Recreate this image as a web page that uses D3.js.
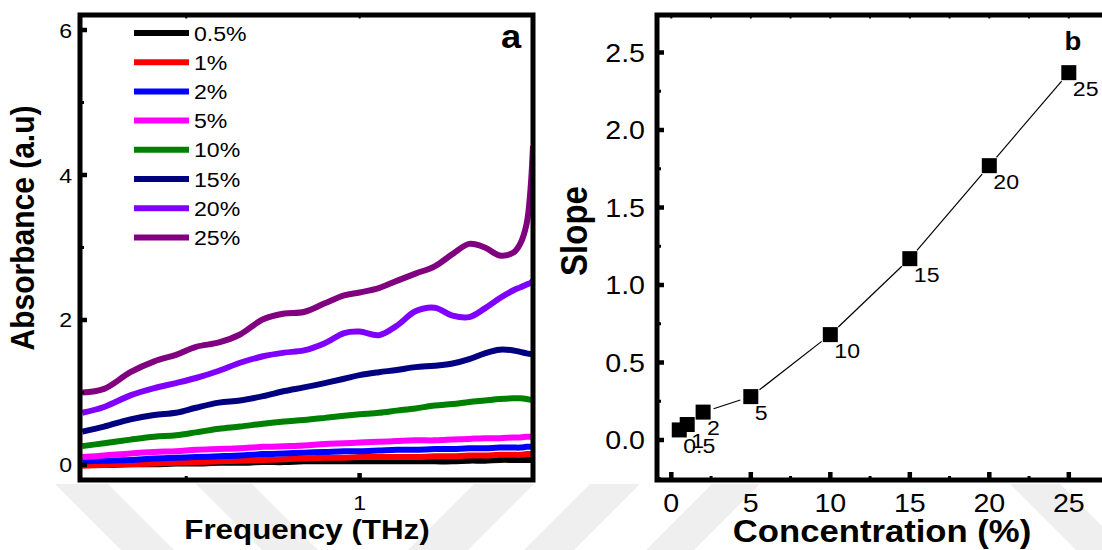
<!DOCTYPE html>
<html>
<head>
<meta charset="utf-8">
<script src="https://cdn.jsdelivr.net/npm/d3@7"></script>
<style>
  body { margin: 0; background: #fff; }
  svg { display: block; }
  text { font-family: "Liberation Sans", Arial, sans-serif; fill: #000; }
</style>
</head>
<body>
<svg id="fig" width="1102" height="550"></svg>
<script>
// ---- Panel a: THz absorbance spectra ----
const frequency = [0.33, 0.36, 0.40, 0.44, 0.48, 0.52, 0.57, 0.62, 0.68, 0.74, 0.80, 0.87, 0.94, 1.00,
                   1.08, 1.16, 1.25, 1.35, 1.45, 1.55, 1.65, 1.75, 1.85, 1.90, 1.95, 1.98, 2.00];
const seriesNames = ["0.5%", "1%", "2%", "5%", "10%", "15%", "20%", "25%"];
const seriesColors = ["#000000", "#ff0000", "#0000ff", "#ff00ff", "#008000", "#000080", "#8000ff", "#800080"];
const abs0p5 = [0.00, 0.00, 0.01, 0.01, 0.02, 0.02, 0.03, 0.03, 0.04, 0.04, 0.05, 0.05, 0.05, 0.05,
                0.05, 0.05, 0.05, 0.05, 0.05, 0.06, 0.06, 0.07, 0.07, 0.07, 0.07, 0.07, 0.07];
const abs1 = [-0.01, 0.00, 0.01, 0.02, 0.03, 0.04, 0.05, 0.06, 0.07, 0.08, 0.09, 0.10, 0.10, 0.11,
              0.11, 0.11, 0.11, 0.12, 0.12, 0.13, 0.13, 0.14, 0.14, 0.14, 0.15, 0.15, 0.15];
const abs2 = [0.05, 0.06, 0.07, 0.09, 0.10, 0.11, 0.12, 0.13, 0.15, 0.16, 0.17, 0.18, 0.19, 0.19,
              0.20, 0.21, 0.21, 0.22, 0.22, 0.23, 0.23, 0.24, 0.24, 0.24, 0.25, 0.25, 0.25];
const abs5 = [0.11, 0.13, 0.16, 0.18, 0.19, 0.21, 0.22, 0.23, 0.25, 0.26, 0.27, 0.29, 0.30, 0.31,
              0.32, 0.33, 0.34, 0.34, 0.35, 0.36, 0.37, 0.37, 0.38, 0.38, 0.39, 0.39, 0.39];
const abs10 = [0.26, 0.30, 0.35, 0.39, 0.41, 0.45, 0.50, 0.53, 0.57, 0.60, 0.62, 0.65, 0.68, 0.70,
               0.72, 0.75, 0.78, 0.82, 0.84, 0.87, 0.89, 0.91, 0.92, 0.92, 0.91, 0.90, 0.90];
const abs15 = [0.46, 0.53, 0.63, 0.69, 0.72, 0.79, 0.86, 0.89, 0.95, 1.02, 1.07, 1.13, 1.19, 1.24,
               1.28, 1.31, 1.35, 1.37, 1.40, 1.46, 1.54, 1.59, 1.58, 1.56, 1.54, 1.53, 1.53];
const abs20 = [0.72, 0.80, 0.96, 1.06, 1.13, 1.20, 1.30, 1.41, 1.50, 1.55, 1.58, 1.68, 1.82, 1.84,
               1.79, 1.92, 2.12, 2.17, 2.06, 2.04, 2.16, 2.30, 2.41, 2.45, 2.49, 2.51, 2.54];
const abs25 = [1.00, 1.05, 1.28, 1.43, 1.52, 1.63, 1.69, 1.80, 2.01, 2.09, 2.11, 2.23, 2.34, 2.38,
               2.44, 2.54, 2.64, 2.74, 2.91, 3.05, 3.00, 2.89, 2.93, 3.05, 3.33, 3.80, 4.40];
const absSeries = [abs0p5, abs1, abs2, abs5, abs10, abs15, abs20, abs25];

const absTicks = [0, 2, 4, 6];
const absMinorTicks = [1, 3, 5];
const freqTicks = [1];
const freqMinorTicks = [0.5];

// ---- Panel b: slope vs concentration ----
const concentration = [0.5, 1, 2, 5, 10, 15, 20, 25];
const slope = [0.065, 0.10, 0.18, 0.28, 0.68, 1.17, 1.77, 2.37];
const pointLabels = ["0.5", "1", "2", "5", "10", "15", "20", "25"];
const slopeTicks = [0, 0.5, 1, 1.5, 2, 2.5];
const slopeTickLabels = ["0.0", "0.5", "1.0", "1.5", "2.0", "2.5"];
const slopeMinorTicks = [-0.25, 0.25, 0.75, 1.25, 1.75, 2.25];
const concTicks = [0, 5, 10, 15, 20, 25];
const concMinorTicks = [2.5, 7.5, 12.5, 17.5, 22.5, 27.5];

// faint background bands of the page watermark
const watermarkBands = [
  [[55, 484], [108, 484], [174, 550], [121, 550]],
  [[196, 484], [252, 484], [318, 550], [262, 550]],
  [[474, 484], [534, 484], [468, 550], [408, 550]],
  [[590, 484], [640, 484], [574, 550], [524, 550]],
  [[712, 484], [760, 484], [694, 550], [646, 550]],
  [[1010, 484], [1060, 484], [1126, 550], [1076, 550]]
];

const svg = d3.select("#fig");
const STRETCH = 1.1;   // horizontal glyph stretch of the figure text

function addText(parent, x, y, str, size, opts = {}) {
  const g = parent.append("g")
    .attr("transform", `translate(${x},${y}) scale(${STRETCH},1)` + (opts.rotate ? " rotate(-90)" : ""));
  g.append("text")
    .attr("text-anchor", opts.anchor || "middle")
    .style("font-size", size + "px")
    .style("font-weight", opts.bold ? "bold" : "normal")
    .text(str);
  return g;
}

// watermark
svg.append("g").selectAll("polygon").data(watermarkBands).join("polygon")
  .attr("points", d => d.map(p => p.join(",")).join(" "))
  .attr("fill", "#efefef");

// ================= Panel a =================
const A = { left: 80, right: 533, top: 15, bottom: 480 };
const xA = d3.scaleLog().domain([0.327, 2.0]).range([A.left, A.right]);
const yA = d3.scaleLinear().domain([-0.207, 6.207]).range([A.bottom, A.top]);

const ga = svg.append("g");
ga.append("clipPath").attr("id", "clipA").append("rect")
  .attr("x", A.left).attr("y", A.top).attr("width", A.right - A.left).attr("height", A.bottom - A.top);

const lineA = d3.line()
  .x((d, i) => xA(frequency[i]))
  .y(d => yA(d))
  .curve(d3.curveCatmullRom.alpha(0.5));

ga.append("g").attr("clip-path", "url(#clipA)")
  .selectAll("path").data(absSeries).join("path")
  .attr("d", d => lineA(d))
  .attr("fill", "none")
  .attr("stroke", (d, i) => seriesColors[i])
  .attr("stroke-width", 6);

// legend
const legRow0 = 33, legStep = 29.2;
seriesNames.forEach((name, i) => {
  const y = legRow0 + i * legStep;
  ga.append("line").attr("x1", 134).attr("x2", 189).attr("y1", y).attr("y2", y)
    .attr("stroke", seriesColors[i]).attr("stroke-width", 6);
  addText(ga, 194, y + 7.6, name, 21, { anchor: "start" });
});

// ticks
ga.selectAll(".ya").data(absTicks).join("line")
  .attr("x1", A.left).attr("x2", A.left + 7).attr("y1", d => yA(d)).attr("y2", d => yA(d))
  .attr("stroke", "#000").attr("stroke-width", 4.5);
ga.selectAll(".yam").data(absMinorTicks).join("line")
  .attr("x1", A.left).attr("x2", A.left + 4).attr("y1", d => yA(d)).attr("y2", d => yA(d))
  .attr("stroke", "#000").attr("stroke-width", 3);
ga.selectAll(".xa").data(freqTicks).join("line")
  .attr("x1", d => xA(d)).attr("x2", d => xA(d)).attr("y1", A.bottom).attr("y2", A.bottom - 7)
  .attr("stroke", "#000").attr("stroke-width", 4.5);
ga.selectAll(".xam").data(freqMinorTicks).join("line")
  .attr("x1", d => xA(d)).attr("x2", d => xA(d)).attr("y1", A.bottom).attr("y2", A.bottom - 4)
  .attr("stroke", "#000").attr("stroke-width", 3);
ga.selectAll(".xat").data(freqTicks.concat(freqMinorTicks)).join("line")
  .attr("x1", d => xA(d)).attr("x2", d => xA(d)).attr("y1", A.top).attr("y2", A.top + 3.5)
  .attr("stroke", "#000").attr("stroke-width", 2);

// frame
ga.append("rect").attr("x", A.left).attr("y", A.top)
  .attr("width", A.right - A.left).attr("height", A.bottom - A.top)
  .attr("fill", "none").attr("stroke", "#000").attr("stroke-width", 5);

// tick labels
absTicks.forEach(t => addText(ga, 72, yA(t) + 7.5, String(t), 21, { anchor: "end" }));
freqTicks.forEach(t => addText(ga, xA(t), 510, String(t), 21));

// titles
addText(ga, 307, 539, "Frequency (THz)", 28.5, { bold: true });
addText(ga, 34, 228, "Absorbance (a.u)", 30, { bold: true, rotate: true });
addText(ga, 511, 48, "a", 33, { bold: true });

// ================= Panel b =================
const B = { left: 657, right: 1110, top: 15, bottom: 480 };
const xB = d3.scaleLinear().domain([-0.9, 28.0]).range([B.left, B.left + 28.9 * 15.9]);
const yB = d3.scaleLinear().domain([-0.258, 2.742]).range([B.bottom, B.top]);

const gb = svg.append("g");

// connecting line, drawn with a gap around each marker
const pts = concentration.map((c, i) => [xB(c), yB(slope[i])]);
const gap = 11;
const segs = [];
for (let i = 0; i < pts.length - 1; i++) {
  const [x1, y1] = pts[i], [x2, y2] = pts[i + 1];
  const d = Math.hypot(x2 - x1, y2 - y1);
  if (d > 2 * gap + 1) {
    const ux = (x2 - x1) / d, uy = (y2 - y1) / d;
    segs.push([x1 + ux * gap, y1 + uy * gap, x2 - ux * gap, y2 - uy * gap]);
  }
}
gb.selectAll(".seg").data(segs).join("line")
  .attr("x1", d => d[0]).attr("y1", d => d[1]).attr("x2", d => d[2]).attr("y2", d => d[3])
  .attr("stroke", "#000").attr("stroke-width", 1.2);

const msize = 15;
gb.selectAll(".mk").data(concentration).join("rect")
  .attr("x", d => xB(d) - msize / 2)
  .attr("y", (d, i) => yB(slope[i]) - msize / 2)
  .attr("width", msize).attr("height", msize)
  .attr("fill", "#000");

concentration.forEach((c, i) => {
  addText(gb, xB(c) + 4, yB(slope[i]) + 23, pointLabels[i], 21, { anchor: "start" });
});

// ticks
gb.selectAll(".yb").data(slopeTicks).join("line")
  .attr("x1", B.left).attr("x2", B.left + 7).attr("y1", d => yB(d)).attr("y2", d => yB(d))
  .attr("stroke", "#000").attr("stroke-width", 4.5);
gb.selectAll(".ybm").data(slopeMinorTicks).join("line")
  .attr("x1", B.left).attr("x2", B.left + 4).attr("y1", d => yB(d)).attr("y2", d => yB(d))
  .attr("stroke", "#000").attr("stroke-width", 3);
gb.selectAll(".xb").data(concTicks).join("line")
  .attr("x1", d => xB(d)).attr("x2", d => xB(d)).attr("y1", B.bottom).attr("y2", B.bottom - 8)
  .attr("stroke", "#000").attr("stroke-width", 4.5);
gb.selectAll(".xbm").data(concMinorTicks).join("line")
  .attr("x1", d => xB(d)).attr("x2", d => xB(d)).attr("y1", B.bottom).attr("y2", B.bottom - 4)
  .attr("stroke", "#000").attr("stroke-width", 3);
gb.selectAll(".xbt").data(concTicks.concat(concMinorTicks)).join("line")
  .attr("x1", d => xB(d)).attr("x2", d => xB(d)).attr("y1", B.top).attr("y2", B.top + 3.5)
  .attr("stroke", "#000").attr("stroke-width", 2);

// frame (right side runs past the page edge)
gb.append("rect").attr("x", B.left).attr("y", B.top)
  .attr("width", B.right - B.left).attr("height", B.bottom - B.top)
  .attr("fill", "none").attr("stroke", "#000").attr("stroke-width", 5);

// tick labels
slopeTicks.forEach((t, i) => addText(gb, 645, yB(t) + 9.3, slopeTickLabels[i], 26, { anchor: "end" }));
concTicks.forEach(t => addText(gb, xB(t), 512, String(t), 26));

// titles
addText(gb, 882, 542, "Concentration (%)", 31.5, { bold: true });
addText(gb, 587, 231, "Slope", 33, { bold: true, rotate: true });
addText(gb, 1073, 50, "b", 25, { bold: true });
</script>
</body>
</html>
